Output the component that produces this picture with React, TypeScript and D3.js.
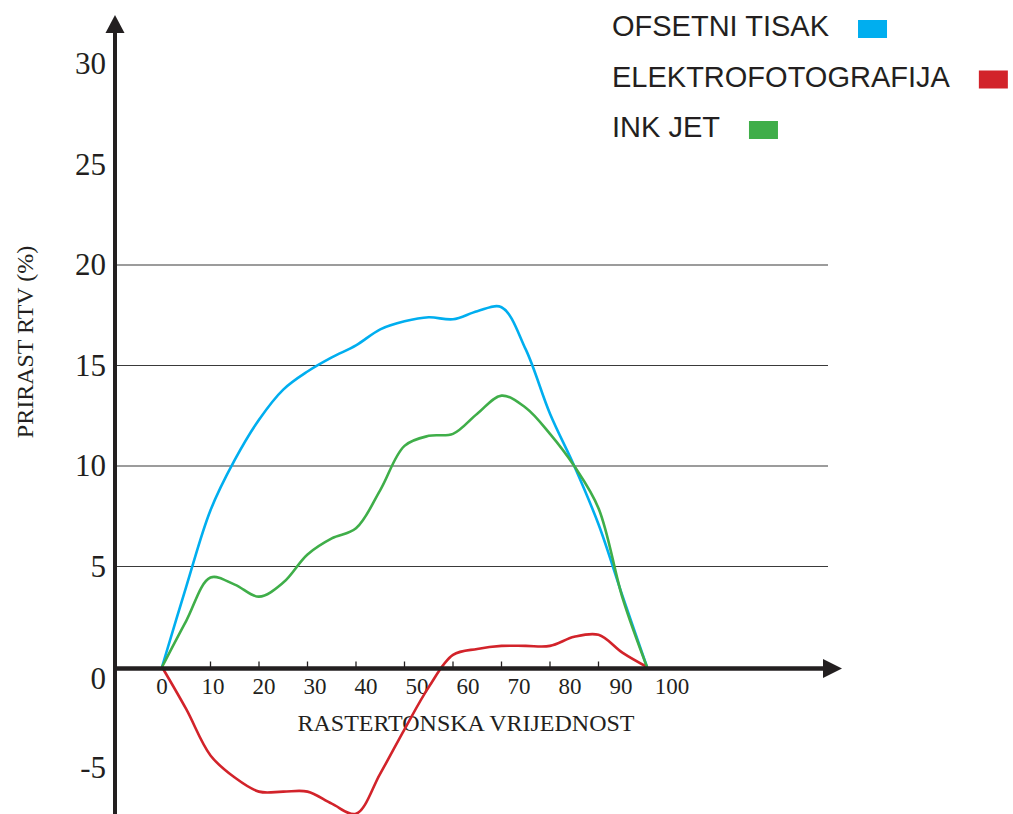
import { useEffect, useRef } from "react";
import * as d3 from "d3";

// raster tone value (%) on the x axis
const tones = [0, 5, 10, 15, 20, 25, 30, 35, 40, 45, 50, 55, 60, 65, 70, 75, 80, 85, 90, 95, 100];

// dot gain (%) per technique
const offsetGain = [0, 4.0, 7.8, 10.3, 12.3, 13.8, 14.7, 15.4, 16.0, 16.8, 17.2, 17.4, 17.3, 17.7, 17.9, 15.8, 12.6, 10.0, 7.1, 3.5, 0];
const inkjetGain = [0, 2.3, 4.45, 4.1, 3.5, 4.2, 5.6, 6.4, 6.9, 8.8, 11.0, 11.5, 11.6, 12.6, 13.5, 12.9, 11.6, 10.0, 7.9, 3.4, 0];
const electroGain = [0, -2.1, -4.4, -5.5, -6.2, -6.2, -6.2, -6.8, -7.3, -5.3, -3.1, -1.0, 0.6, 0.9, 1.05, 1.05, 1.05, 1.5, 1.6, 0.7, 0];

const xTicks = [0, 10, 20, 30, 40, 50, 60, 70, 80, 90, 100];
const yTicks = [30, 25, 20, 15, 10, 5, 0, -5];
const gridValues = [5, 10, 15, 20];

const legendNames = ["OFSETNI TISAK", "ELEKTROFOTOGRAFIJA", "INK JET"];
const colors = ["#00aeef", "#d2232a", "#3fae49"];

const ink = "#231f20";
const serif = "'Liberation Serif', 'Times New Roman', serif";

const Chart = () => {
  const ref = useRef<SVGSVGElement>(null);

  useEffect(() => {
    const svg = d3.select(ref.current);
    svg.selectAll("*").remove();

    const x = d3.scaleLinear().domain([0, 100]).range([162, 647]);
    const xLabel = d3.scaleLinear().domain([0, 100]).range([162, 672]);
    const y = d3.scaleLinear().domain([0, 20]).range([667, 265]);

    const axisX = 115;
    const axisY = y(0) + 1.5;

    // grid
    svg
      .selectAll(".grid")
      .data(gridValues)
      .enter()
      .append("line")
      .attr("x1", axisX)
      .attr("x2", 828)
      .attr("y1", (d) => y(d))
      .attr("y2", (d) => y(d))
      .attr("stroke", "#3a3a3a")
      .attr("stroke-width", 1.1);

    // y tick labels
    svg
      .selectAll(".ylab")
      .data(yTicks)
      .enter()
      .append("text")
      .attr("x", 106)
      .attr("y", (d) => y(d) + (d === 0 ? 22 : 10))
      .attr("text-anchor", "end")
      .style("font-family", serif)
      .style("font-size", "31px")
      .style("fill", ink)
      .text((d) => `${d}`);

    // x ticks
    svg
      .selectAll(".xtick")
      .data(xTicks.slice(1, -1))
      .enter()
      .append("line")
      .attr("x1", (d) => x(d))
      .attr("x2", (d) => x(d))
      .attr("y1", axisY - 7)
      .attr("y2", axisY)
      .attr("stroke", ink)
      .attr("stroke-width", 1.3);

    svg
      .selectAll(".xlab")
      .data(xTicks)
      .enter()
      .append("text")
      .attr("x", (d) => xLabel(d))
      .attr("y", 694)
      .attr("text-anchor", "middle")
      .style("font-family", serif)
      .style("font-size", "23px")
      .style("fill", ink)
      .text((d) => `${d}`);

    // axis titles
    svg
      .append("text")
      .attr("x", 466)
      .attr("y", 731)
      .attr("text-anchor", "middle")
      .style("font-family", serif)
      .style("font-size", "24px")
      .style("fill", ink)
      .text("RASTERTONSKA VRIJEDNOST");

    svg
      .append("text")
      .attr("transform", "translate(33, 342) rotate(-90)")
      .attr("text-anchor", "middle")
      .style("font-family", serif)
      .style("font-size", "24px")
      .style("fill", ink)
      .text("PRIRAST RTV (%)");

    // series
    const series = [offsetGain, electroGain, inkjetGain];
    const line = d3
      .line<number>()
      .x((d, i) => x(tones[i]))
      .y((d) => y(d))
      .curve(d3.curveCatmullRom.alpha(0.5));

    svg
      .selectAll(".series")
      .data(series)
      .enter()
      .append("path")
      .attr("d", (d) => line(d))
      .attr("fill", "none")
      .attr("stroke", (d, i) => colors[i])
      .attr("stroke-width", 2.6)
      .attr("stroke-linejoin", "round");

    // axes with arrows
    svg
      .append("line")
      .attr("x1", axisX)
      .attr("x2", axisX)
      .attr("y1", 814)
      .attr("y2", 30)
      .attr("stroke", ink)
      .attr("stroke-width", 4);
    svg
      .append("path")
      .attr("d", `M${axisX},15 L${axisX + 9.5},33 L${axisX - 9.5},33 Z`)
      .attr("fill", ink);

    svg
      .append("line")
      .attr("x1", axisX - 2)
      .attr("x2", 828)
      .attr("y1", axisY)
      .attr("y2", axisY)
      .attr("stroke", ink)
      .attr("stroke-width", 4.5);
    svg
      .append("path")
      .attr("d", `M842,${axisY} L823,${axisY - 9.5} L823,${axisY + 9.5} Z`)
      .attr("fill", ink);

    // legend
    const legend = svg
      .selectAll(".legend")
      .data(legendNames)
      .enter()
      .append("g")
      .attr("transform", (d, i) => `translate(612, ${36 + i * 50.5})`);

    legend
      .append("text")
      .style("font-family", "'Liberation Sans', Arial, sans-serif")
      .style("font-size", "29px")
      .style("fill", ink)
      .text((d) => d);

    legend.each(function (d, i) {
      const g = d3.select(this);
      const w = (g.select("text").node() as SVGTextElement).getComputedTextLength();
      g.append("rect")
        .attr("x", w + 29)
        .attr("y", -16)
        .attr("width", 29)
        .attr("height", 18)
        .attr("fill", colors[i]);
    });
  }, []);

  return (
    <svg
      ref={ref}
      width={1013}
      height={814}
      style={{ position: "absolute", left: 0, top: 0, background: "#fff" }}
    />
  );
};

export default function App() {
  return <Chart />;
}
